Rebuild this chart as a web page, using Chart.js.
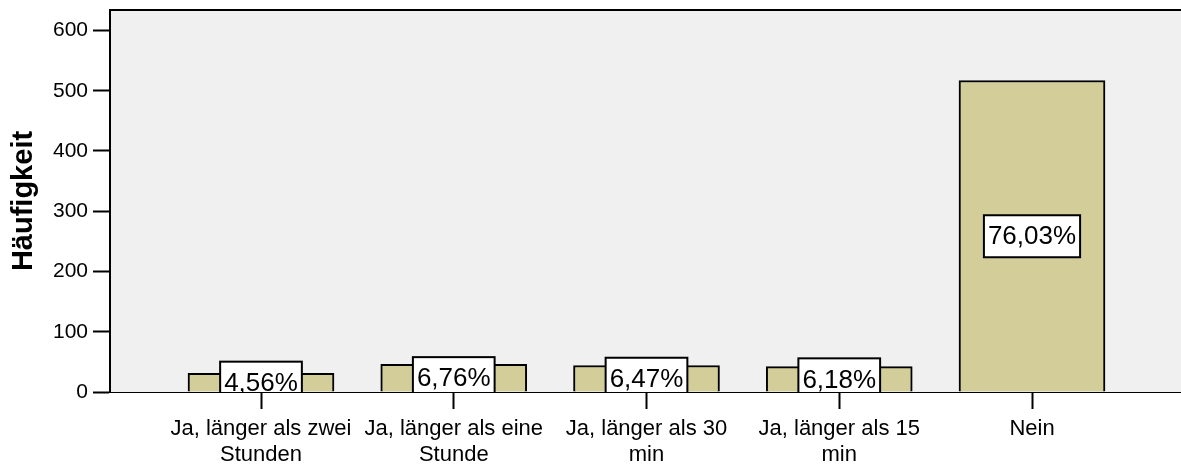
<!DOCTYPE html>
<html>
<head>
<meta charset="utf-8">
<script src="https://cdn.jsdelivr.net/npm/chart.js@4/dist/chart.umd.min.js"></script>
<style>
  html, body { margin: 0; padding: 0; background: #fff; overflow: hidden; }
  #wrap { width: 1181px; height: 468px; position: relative; }
</style>
</head>
<body>
<div id="wrap"><canvas id="chart"></canvas></div>
<script>
// Häufigkeit per answer category
const categories = [
    ['Ja, länger als zwei', 'Stunden'],
    ['Ja, länger als eine', 'Stunde'],
    ['Ja, länger als 30', 'min'],
    ['Ja, länger als 15', 'min'],
    ['Nein']
];
const counts = [31, 46, 44, 42, 517];
const yTicks = [0, 100, 200, 300, 400, 500, 600];

const total = counts.reduce((a, b) => a + b, 0);
const percentLabels = counts.map(c => (c / total * 100).toFixed(2).replace('.', ',') + '%');

const FONT = '"Liberation Sans", Arial, Helvetica, sans-serif';

// gray plot background + top frame line
const plotFrame = {
    id: 'plotFrame',
    beforeDraw(chart) {
        const { ctx, chartArea: a } = chart;
        ctx.save();
        ctx.fillStyle = '#f0f0f0';
        ctx.fillRect(a.left, a.top, a.right - a.left, a.bottom - a.top);
        ctx.strokeStyle = '#000';
        ctx.lineWidth = 2;
        ctx.beginPath();
        ctx.moveTo(a.left, a.top);
        ctx.lineTo(a.right, a.top);
        ctx.stroke();
        ctx.restore();
    }
};

// white percentage boxes in the middle of each bar
const pctBoxes = {
    id: 'pctBoxes',
    afterDatasetsDraw(chart) {
        const { ctx, chartArea: a, scales: { y } } = chart;
        const meta = chart.getDatasetMeta(0);
        ctx.save();
        ctx.beginPath();
        ctx.rect(a.left, a.top, a.right - a.left, a.bottom - a.top);
        ctx.clip();
        ctx.font = '26px ' + FONT;
        ctx.textAlign = 'center';
        ctx.textBaseline = 'middle';
        meta.data.forEach((bar, i) => {
            const cy = y.getPixelForValue(counts[i] / 2);
            const w = ctx.measureText(percentLabels[i]).width + 8;
            const h = 42;
            ctx.fillStyle = '#fff';
            ctx.fillRect(bar.x - w / 2, cy - h / 2, w, h);
            ctx.strokeStyle = '#000';
            ctx.lineWidth = 2;
            ctx.strokeRect(bar.x - w / 2, cy - h / 2, w, h);
            ctx.fillStyle = '#000';
            ctx.fillText(percentLabels[i], bar.x, cy + 1);
        });
        ctx.restore();
    }
};

new Chart(document.getElementById('chart'), {
    type: 'bar',
    data: {
        datasets: [{
            data: counts.map((v, i) => ({ x: i, y: v })),
            backgroundColor: '#d3ce99',
            borderColor: '#000',
            borderWidth: 2,
            barThickness: 146
        }]
    },
    options: {
        responsive: true,
        maintainAspectRatio: false,
        animation: false,
        layout: { padding: { top: 10, left: 0, right: 0, bottom: 0 } },
        plugins: {
            legend: { display: false },
            tooltip: { enabled: false }
        },
        scales: {
            x: {
                type: 'linear',
                offset: false,
                min: -0.7834,
                max: 4.773,
                afterBuildTicks: s => { s.ticks = categories.map((c, i) => ({ value: i })); },
                afterFit: s => { s.height = 76; s.paddingLeft = 0; s.paddingRight = 0; },
                grid: { offset: false, drawOnChartArea: false, drawTicks: true, tickLength: 17, tickWidth: 2, tickColor: '#000' },
                border: { display: true, color: '#000', width: 1 },
                ticks: {
                    autoSkip: false,
                    maxRotation: 0,
                    padding: 7,
                    color: '#000',
                    font: { size: 22, family: FONT, lineHeight: 1.18 },
                    callback: v => categories[v]
                }
            },
            y: {
                min: 0,
                max: 634,
                afterBuildTicks: s => { s.ticks = yTicks.map(v => ({ value: v })); },
                afterFit: s => { s.width = 110; s.paddingTop = 0; s.paddingBottom = 0; },
                grid: { drawOnChartArea: false, drawTicks: true, tickLength: 17, tickWidth: 2, tickColor: '#000' },
                border: { display: true, color: '#000', width: 2 },
                ticks: {
                    padding: 5,
                    color: '#000',
                    font: { size: 21, family: FONT }
                },
                title: {
                    display: true,
                    text: 'Häufigkeit',
                    color: '#000',
                    font: { size: 29, weight: 'bold', family: FONT },
                    padding: { top: 7, bottom: 0 }
                }
            }
        }
    },
    plugins: [plotFrame, pctBoxes]
});
</script>
</body>
</html>
